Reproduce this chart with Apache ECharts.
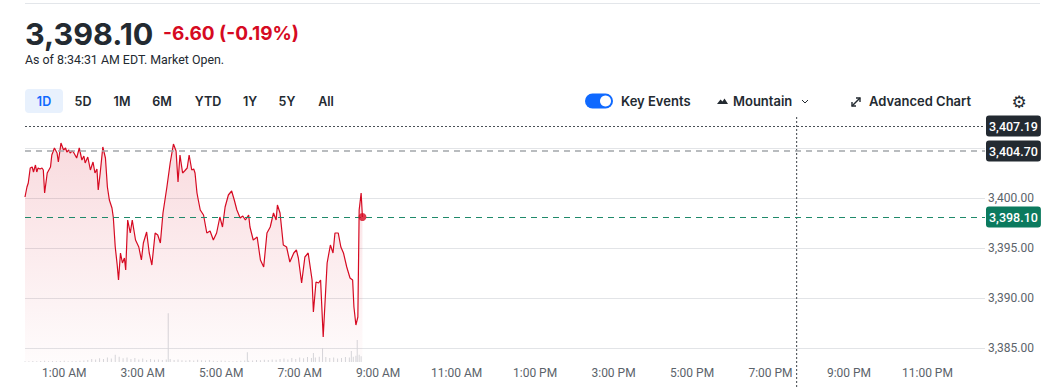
<!DOCTYPE html>
<html>
<head>
<meta charset="utf-8">
<script src="https://cdn.jsdelivr.net/npm/echarts@6/dist/echarts.min.js"></script>
<style>
html,body{margin:0;padding:0;background:#fff;}
#chart{width:1057px;height:387px;}
</style>
</head>
<body>
<div id="chart"></div>
<script>
// ---------- DATA ----------
const lastPrice = '3,398.10';
const change = '-6.60 (-0.19%)';
const asOf = 'As of 8:34:31 AM EDT. Market Open.';
const rangeLabels = ['1D','5D','1M','6M','YTD','1Y','5Y','All'];
const timeTickLabels = ['1:00 AM','3:00 AM','5:00 AM','7:00 AM','9:00 AM','11:00 AM','1:00 PM','3:00 PM','5:00 PM','7:00 PM','9:00 PM','11:00 PM'];

// minutes since midnight
const times = [0,3,5,8,11,13,16,18,20,23,26,28,30,34,39,41,45,49,51,55,59,62,64,67,69,72,74,79,83,87,90,92,96,100,104,107,110,112,115,119,123,126,129,133,135,138,141,143,146,149,152,154,157,161,164,167,169,174,178,181,186,190,194,199,203,207,211,217,222,227,231,234,237,241,244,248,251,255,258,260,263,265,268,273,278,283,288,293,298,302,306,311,316,320,324,329,333,337,342,344,349,355,360,365,370,375,380,384,386,390,395,400,405,411,415,418,423,428,433,439,441,445,449,452,456,462,467,471,474,479,483,487,492,497,501,503,506,509,511,514,516];
const prices = [3400.1,3401.1,3401.5,3403.0,3403.1,3402.6,3403.3,3402.6,3403.0,3402.9,3403.0,3402.8,3400.5,3402.5,3403.1,3404.3,3405.0,3404.5,3403.6,3405.5,3404.8,3405.0,3404.6,3404.8,3404.5,3404.7,3404.6,3404.0,3405.0,3403.8,3404.2,3403.5,3404.1,3402.8,3403.6,3402.5,3402.9,3400.8,3402.5,3405.1,3404.0,3401.1,3399.8,3399.0,3398.1,3395.1,3393.3,3391.8,3394.5,3393.5,3394.0,3392.8,3397.8,3396.5,3397.8,3396.6,3395.8,3395.1,3393.8,3395.5,3396.6,3394.5,3393.3,3396.5,3396.3,3395.5,3398.5,3401.1,3403.5,3405.4,3404.7,3401.6,3404.3,3402.5,3402.7,3403.0,3404.3,3402.8,3402.9,3402.5,3400.5,3399.8,3398.8,3398.3,3396.5,3396.7,3395.8,3396.5,3398.1,3397.1,3399.1,3400.3,3400.7,3399.8,3398.8,3398.0,3398.2,3397.8,3398.3,3397.1,3395.8,3396.1,3393.8,3393.1,3396.5,3397.1,3398.5,3397.8,3399.3,3398.5,3395.3,3395.1,3393.6,3394.5,3394.8,3394.0,3391.5,3394.1,3394.5,3391.8,3388.6,3391.6,3391.5,3391.8,3386.1,3393.5,3395.3,3394.5,3396.5,3396.5,3395.1,3394.5,3393.1,3392.0,3391.8,3389.1,3387.3,3388.1,3398.8,3400.5,3398.1];

const volTimes = [0,6,12,18,24,30,36,42,48,54,60,66,72,78,84,90,96,102,108,114,120,126,132,138,144,150,156,162,168,174,180,186,192,198,204,210,216,219,222,228,234,240,246,252,258,264,270,276,282,288,294,300,306,312,318,324,330,336,340,342,348,354,360,366,372,378,384,390,396,402,408,414,420,426,432,438,441,444,450,455,460,466,472,478,484,490,496,499,502,506,508,511,514];
const volumes = [0.3,0.3,0.4,0.3,0.4,0.5,0.3,0.4,0.3,0.4,0.5,0.3,0.4,0.4,0.5,0.6,0.8,1.2,1.0,1.5,1.2,1.8,1.4,3.0,2.2,1.5,1.8,1.2,1.6,1.0,1.4,0.8,1.2,0.9,1.0,0.8,1.0,20,1.2,0.8,1.0,0.7,0.6,0.8,0.6,0.9,0.7,0.6,0.8,0.5,0.4,0.6,0.5,0.4,0.3,0.4,0.5,0.6,4.0,0.5,0.6,0.8,0.7,0.9,0.8,1.0,0.9,1.2,1.4,1.0,1.6,1.2,1.8,1.5,2.0,1.6,3.7,1.8,2.2,5.7,2.0,1.6,1.8,1.4,1.6,2.0,1.8,4.5,2.2,2.6,9.0,3.0,2.4];

const highLevel = 3407.19;
const prevClose = 3404.70;
const currentLevel = 3398.10;
const hiddenTick = 3405; // axis label covered by the previous-close tag
const markerTime = 1180; // vertical dotted marker (minutes)

// ---------- LAYOUT / STYLE ----------
const RED = '#d60a22';
const DARK = '#232a31';
const GRAY = '#5b636a';
const GREEN = '#0b7a5e';
const fmt2 = v => v.toLocaleString('en-US',{minimumFractionDigits:2,maximumFractionDigits:2});

const priceData = times.map((t,i)=>[t,prices[i]]);
const volData = volTimes.map((t,i)=>[t,volumes[i]]);

const rangeX = [44,83,122,162,208,250,287,326];
const g = [];
g.push({type:'line',shape:{x1:25,y1:3.5,x2:1040,y2:3.5},style:{stroke:'#e3e6ea',lineWidth:1}});
g.push({type:'text',x:25,y:33,style:{text:lastPrice,font:'700 30.5px Inter',fill:DARK,textVerticalAlign:'middle'}});
g.push({type:'text',x:163,y:33,style:{text:change,font:'700 19px Inter',fill:RED,textVerticalAlign:'middle'}});
g.push({type:'text',x:25,y:59,style:{text:asOf,font:'12.4px Roboto',fill:DARK,textVerticalAlign:'middle'}});
g.push({type:'rect',shape:{x:25,y:89,width:38,height:24,r:4},style:{fill:'#e8f1fd'}});
rangeLabels.forEach((l,i)=>{
  g.push({type:'text',x:rangeX[i],y:101,style:{text:l,font:'600 12.5px Inter',fill:i===0?'#0f69ff':DARK,textAlign:'center',textVerticalAlign:'middle'}});
});
// toggle
g.push({type:'rect',shape:{x:585,y:93.5,width:28,height:15,r:7.5},style:{fill:'#0f69ff'}});
g.push({type:'circle',shape:{cx:605.5,cy:101,r:5.5},style:{fill:'#fff'}});
g.push({type:'text',x:621,y:101,style:{text:'Key Events',font:'600 13px Inter',fill:DARK,textVerticalAlign:'middle'}});
// mountain
g.push({type:'polygon',shape:{points:[[717,104],[720.5,99.5],[722.5,101.5],[724.5,98.5],[728,104]]},style:{fill:DARK}});
g.push({type:'text',x:733,y:100.5,style:{text:'Mountain',font:'600 13px Inter',fill:DARK,textVerticalAlign:'middle'}});
g.push({type:'polyline',shape:{points:[[802,100],[805,103],[808,100]]},style:{stroke:DARK,lineWidth:1,fill:null}});
// advanced chart icon
g.push({type:'line',shape:{x1:852,y1:106,x2:860,y2:98},style:{stroke:DARK,lineWidth:1.4}});
g.push({type:'polyline',shape:{points:[[852,102],[852,106],[856,106]]},style:{stroke:DARK,lineWidth:1.4,fill:null}});
g.push({type:'polyline',shape:{points:[[856,98],[860,98],[860,102]]},style:{stroke:DARK,lineWidth:1.4,fill:null}});
g.push({type:'text',x:869,y:100.5,style:{text:'Advanced Chart',font:'600 13px Inter',fill:DARK,textVerticalAlign:'middle'}});
g.push({type:'text',x:1019,y:101.5,style:{text:'⚙',font:'17px "DejaVu Sans"',fill:DARK,textAlign:'center',textVerticalAlign:'middle'}});

const boxLabel = (txt,bg)=>({show:true,position:'end',distance:1,formatter:txt,color:'#fff',backgroundColor:bg,padding:[4,3,4,3],borderRadius:3,fontFamily:'Roboto',fontSize:12.5,fontWeight:500});

const chart = echarts.init(document.getElementById('chart'),null,{renderer:'svg'});
chart.setOption({
  animation:false,
  backgroundColor:'#fff',
  textStyle:{fontFamily:'Roboto'},
  graphic:g,
  grid:[
    {left:25,right:72,top:118,bottom:25},
    {left:25,right:72,top:116,bottom:0}
  ],
  xAxis:[
    {type:'value',gridIndex:0,min:0,max:1468,interval:60,
     axisLine:{show:false},axisTick:{show:false},splitLine:{show:false},
     axisLabel:{color:GRAY,fontSize:12,fontFamily:'Roboto',margin:5,showMaxLabel:false,
       formatter:v=> (v%120===60) ? (timeTickLabels[(v-60)/120]||'') : ''}},
    {type:'value',gridIndex:1,min:0,max:1468,show:false}
  ],
  yAxis:[
    {type:'value',gridIndex:0,position:'right',min:3383.6,max:3408,minInterval:5,maxInterval:5,
     axisLine:{show:false},axisTick:{show:false},
     axisLabel:{color:GRAY,fontSize:12,fontFamily:'Roboto',margin:3,showMinLabel:false,showMaxLabel:false,
       formatter:v=> v===hiddenTick ? '' : fmt2(v)},
     splitLine:{show:true,showMinLine:false,showMaxLine:false,lineStyle:{color:'#e2e4e7',width:1}}},
    {type:'value',gridIndex:0,min:0,max:100,show:false},
    {type:'value',gridIndex:1,min:0,max:1,show:false}
  ],
  series:[
    {type:'bar',xAxisIndex:0,yAxisIndex:1,data:volData,barWidth:1,itemStyle:{color:'#d5d8dc'},silent:true,z:1},
    {type:'line',xAxisIndex:0,yAxisIndex:0,data:priceData,showSymbol:false,symbol:'none',
     lineStyle:{color:RED,width:1.2},
     areaStyle:{origin:'start',color:new echarts.graphic.LinearGradient(0,0,0,1,[{offset:0,color:'rgba(214,10,34,0.21)'},{offset:1,color:'rgba(214,10,34,0.02)'}])},
     z:3,
     markLine:{silent:true,symbol:['none','none'],
       data:[
         {yAxis:highLevel,lineStyle:{color:'#4a5057',type:[2,2],width:1},label:boxLabel(fmt2(highLevel),DARK)},
         {yAxis:prevClose,lineStyle:{color:'#a3a7ab',type:[6,5],width:1.5},label:boxLabel(fmt2(prevClose),DARK)},
         {yAxis:currentLevel,lineStyle:{color:'#1f8a6a',type:[6,5],width:1.2,opacity:1},label:boxLabel(fmt2(currentLevel),GREEN)}
       ]}},
    {type:'scatter',xAxisIndex:0,yAxisIndex:0,data:[priceData[priceData.length-1]],symbolSize:8,itemStyle:{color:RED},z:5,silent:true},
    {type:'line',xAxisIndex:1,yAxisIndex:2,data:[[markerTime,0],[markerTime,1]],symbol:'none',
     lineStyle:{color:'#3c4248',type:[2,2],width:1},silent:true,z:2}
  ]
});
</script>
</body>
</html>
